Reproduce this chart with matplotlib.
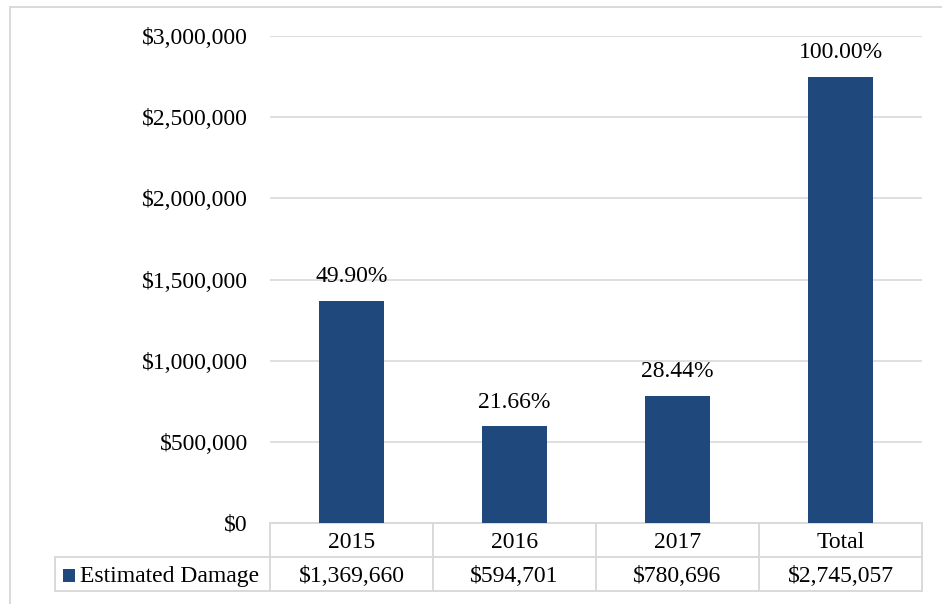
import matplotlib.pyplot as plt
from matplotlib.patches import Rectangle
from matplotlib.ticker import FuncFormatter, MultipleLocator

categories = ['2015', '2016', '2017', 'Total']
damage = [1369660, 594701, 780696, 2745057]
series_name = 'Estimated Damage'

bar_color = '#1F497D'
grid_color = '#D9D9D9'
plt.rcParams['font.family'] = ['Liberation Serif', 'DejaVu Serif']
fs = 17

W, H = 942, 604
fig = plt.figure(figsize=(W / 100, H / 100), dpi=100)
fig.patch.set_facecolor('white')

# plot area in pixels: x 270..922, y 36..523
left, right, top, bottom = 270, 922, 36, 523
ax = fig.add_axes([left / W, (H - bottom) / H, (right - left) / W, (bottom - top) / H])

x = range(len(categories))
bars = ax.bar(x, damage, width=0.4, color=bar_color, zorder=3)
ax.set_xlim(-0.5, len(categories) - 0.5)
ax.set_ylim(0, 3000000)
ax.yaxis.set_major_locator(MultipleLocator(500000))
ax.yaxis.set_major_formatter(FuncFormatter(lambda v, p: '${:,.0f}'.format(v)))
ax.grid(axis='y', color=grid_color, linewidth=1.2, zorder=0)
ax.tick_params(axis='y', length=0, pad=16, labelsize=fs)
ax.set_xticks([])
for s in ax.spines.values():
    s.set_visible(False)

# percentage of the total above each bar
total = damage[-1]
for b, v in zip(bars, damage):
    ax.annotate('{:.2f}%'.format(v / total * 100),
                (b.get_x() + b.get_width() / 2, v),
                xytext=(0, 10), textcoords='offset points',
                ha='center', va='bottom', fontsize=fs)

# data table under the axis
aw = right - left
ah = bottom - top
row_h = 34 / ah
label_w = 215 / aw
n = len(categories)
lkw = dict(color=grid_color, linewidth=1.4, transform=ax.transAxes, clip_on=False)

ax.plot([0, 1], [0, 0], **lkw)
ax.plot([-label_w, 1], [-row_h, -row_h], **lkw)
ax.plot([-label_w, 1], [-2 * row_h, -2 * row_h], **lkw)
ax.plot([-label_w, -label_w], [-row_h, -2 * row_h], **lkw)
for i in range(n + 1):
    ax.plot([i / n, i / n], [0, -2 * row_h], **lkw)

for i, (cat, v) in enumerate(zip(categories, damage)):
    cx = (i + 0.5) / n
    ax.text(cx, -25 / ah, cat, ha='center', va='baseline',
            fontsize=fs, transform=ax.transAxes)
    ax.text(cx, -59 / ah, '${:,}'.format(v), ha='center', va='baseline',
            fontsize=fs, transform=ax.transAxes)

ax.add_patch(Rectangle(((63 - left) / aw, -59 / ah), 12 / aw, 13 / ah,
                       facecolor=bar_color, edgecolor='none',
                       transform=ax.transAxes, clip_on=False))
ax.text((80 - left) / aw, -59 / ah, series_name, ha='left', va='baseline',
        fontsize=fs, transform=ax.transAxes)

# chart frame
fig.patches.append(Rectangle((9.5 / W, -0.1), 2, (H - 6.5) / H + 0.1,
                             transform=fig.transFigure, facecolor='none',
                             edgecolor=grid_color, linewidth=1.4))

fig.savefig('out.png', dpi=100)
